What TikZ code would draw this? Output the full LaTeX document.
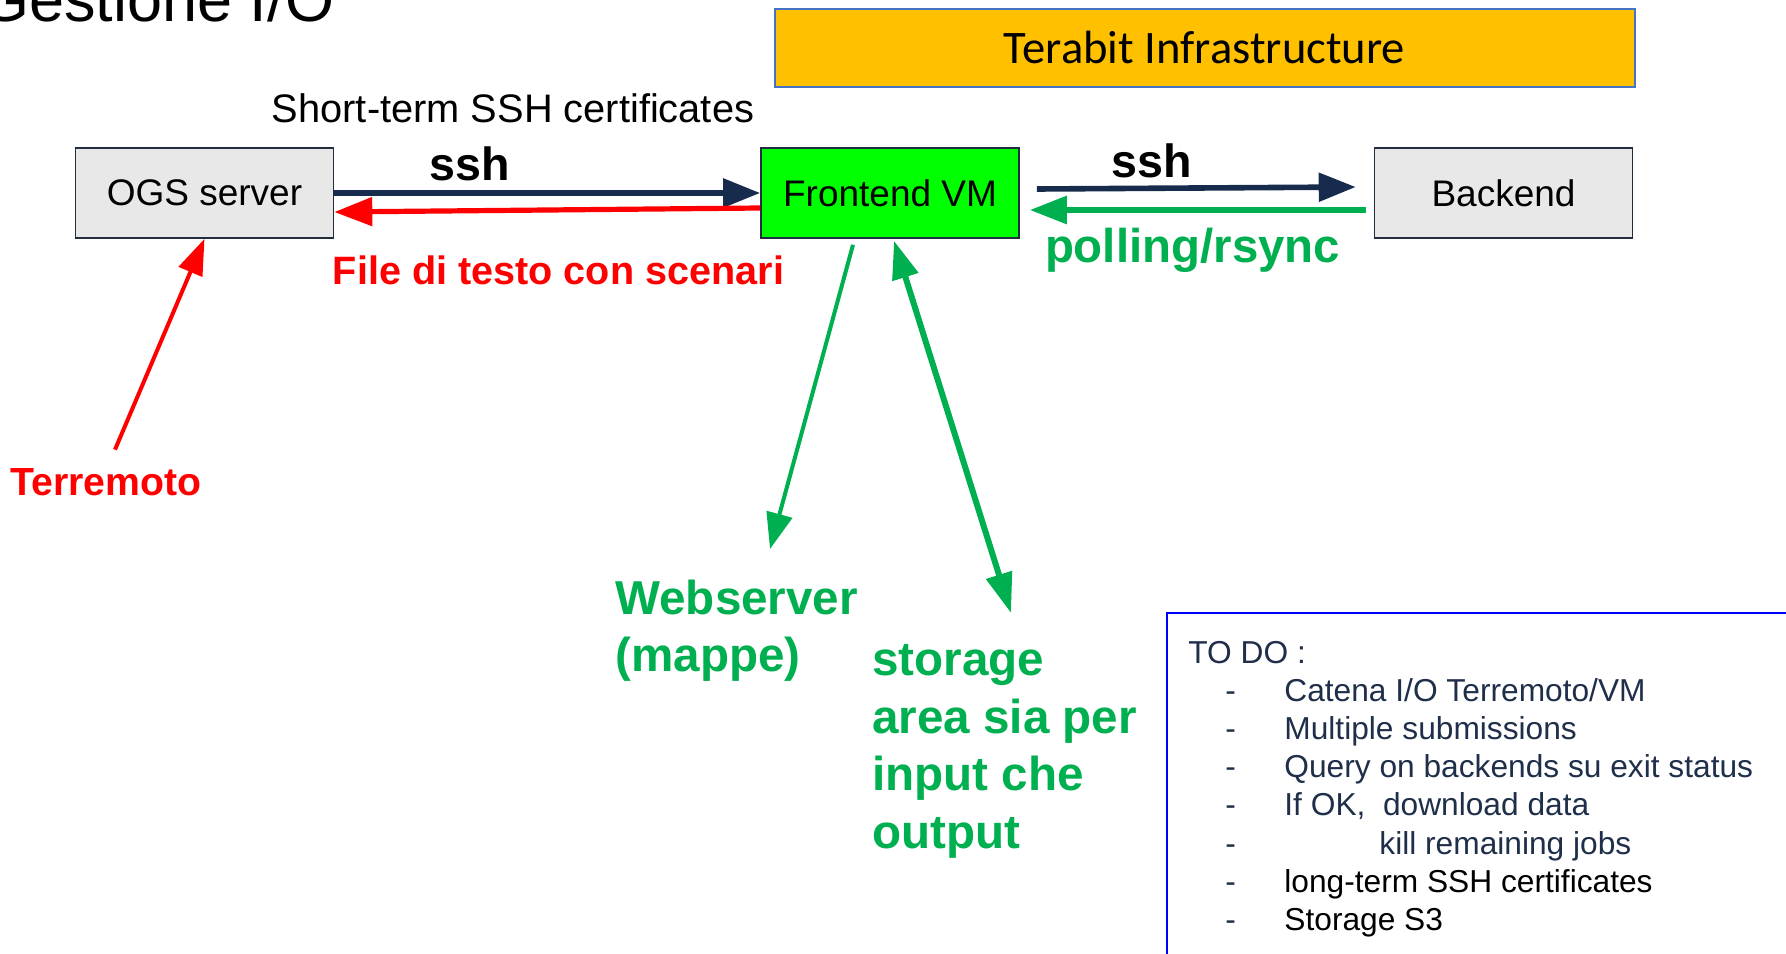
\documentclass[tikz,border=0pt]{standalone}
\usepackage{fontspec}
\setmainfont{Liberation Sans}
\newfontfamily\calfont{Carlito}
\usepackage{tikz}
\usetikzlibrary{arrows.meta}
\definecolor{navyline}{HTML}{172B4D}
\definecolor{boxline}{HTML}{1F2D3D}
\definecolor{boxgray}{HTML}{E8E8E8}
\definecolor{vmgreen}{HTML}{00FF00}
\definecolor{okgreen}{HTML}{00B050}
\definecolor{alertred}{HTML}{FF0000}
\definecolor{terafill}{HTML}{FFC000}
\definecolor{teraline}{HTML}{4472C4}
\definecolor{todoline}{HTML}{0000FF}
\definecolor{todotext}{HTML}{1F2F4A}
\tikzstyle{server}=[draw=boxline, line width=0.8pt, fill=boxgray, minimum width=129pt, minimum height=45pt, inner sep=0pt, font=\fontsize{18.5}{22}\selectfont]
\tikzstyle{infra}=[draw=teraline, line width=1pt, fill=terafill, minimum width=430pt, minimum height=39pt, inner sep=0pt, font=\calfont\fontsize{23.3}{28}\selectfont]
\tikzstyle{tag}=[inner sep=0pt, anchor=base]
\tikzstyle{bigtag}=[inner sep=0pt, anchor=base west, text=okgreen]
\tikzstyle{sshline}=[line width=2.8pt, draw=navyline, -{Triangle[length=18.5pt,width=14pt]}]
\tikzstyle{redline}=[line width=2.6pt, draw=alertred, -{Triangle[length=19pt,width=14pt]}]
\tikzstyle{greenline}=[line width=3pt, draw=okgreen, -{Triangle[length=18.5pt,width=13.5pt]}]
\tikzstyle{todo}=[inner sep=0pt, anchor=base west, text=todotext, font=\fontsize{15.85}{19.1}\selectfont]

\begin{document}
\begin{tikzpicture}[x=0.5pt, y=-0.5pt]
    \useasboundingbox (0,0) rectangle (1786,953);
    \clip (0,0) rectangle (1786,953);
    \node[tag, anchor=base west, font=\fontsize{31.5}{36}\selectfont] (title) at (-20,21) {Gestione I/O};
    \node[infra] (tera) at (1204.5,47.5) {Terabit Infrastructure};
    \node[tag, font=\fontsize{19.9}{24}\selectfont] (cert) at (513,122) {Short-term SSH certificates};
    \node[server] (ogs)   at (204.5,193) {OGS server};
    \node[server, fill=vmgreen] (front) at (890,193) {Frontend VM};
    \node[server] (back)  at (1503.5,193) {Backend};
    \node[tag, font=\bfseries\fontsize{23.3}{28}\selectfont] (ssha) at (470,180) {ssh};
    \node[tag, font=\bfseries\fontsize{23.3}{28}\selectfont] (sshb) at (1152,177) {ssh};
    \node[tag, text=alertred, font=\bfseries\fontsize{19.8}{24}\selectfont] (scen) at (558.5,284) {File di testo con scenari};
    \node[tag, text=okgreen, font=\bfseries\fontsize{23.7}{28}\selectfont] (poll) at (1192.5,262) {polling/rsync};
    \node[tag, text=alertred, font=\bfseries\fontsize{19.6}{24}\selectfont] (quake) at (106,495) {Terremoto};
    \node[bigtag, font=\bfseries\fontsize{23.8}{28.5}\selectfont] (web) at (615,614)
        {\begin{tabular}[t]{@{}l@{}}Webserver\\(mappe)\end{tabular}};
    \node[bigtag, font=\bfseries\fontsize{23.8}{28.75}\selectfont] (store) at (872,675.5)
        {\begin{tabular}[t]{@{}l@{}}storage\\area sia per\\input che\\output\end{tabular}};
    % to do list
    \draw[todoline, line width=0.8pt] (1167,613) rectangle (1800,970);
    \node[todo] (list) at (1188,663) {%
        \begin{tabular}[t]{@{\hspace{18.5pt}}p{29.5pt}@{}l@{}}
        \multicolumn{2}{@{}l@{}}{TO DO :}\\
        - & Catena I/O Terremoto/VM\\
        - & Multiple submissions\\
        - & Query on backends su exit status\\
        - & If OK,\ \ download data\\
        - & \hspace{47.5pt}kill remaining jobs\\
        - & \color{black}long-term SSH certificates\\
        - & \color{black}Storage S3
        \end{tabular}};
    % connectors
    \draw[sshline] (ogs.east) -- (front.west);
    \draw[redline] ([shift={(0,15)}]front.west) -- ([shift={(0,19)}]ogs.east);
    \draw[sshline] ([shift={(17,-4)}]front.east) -- ([shift={(-18,-6)}]back.west);
    \draw[greenline] ([shift={(-8,17)}]back.west) -- ([shift={(10,17)}]front.east);
    \draw[redline, line width=2pt, -{Triangle[length=18pt,width=12.5pt]}] ([shift={(9,-18)}]quake.north) -- (ogs.south);
    \draw[greenline, line width=2pt, -{Triangle[length=18pt,width=13pt]}] ([shift={(-37,6)}]front.south) -- ([shift={(155,-65)}]web.base west);
    \draw[greenline, {Triangle[length=19pt,width=13pt]}-{Triangle[length=20pt,width=13pt]}] ([shift={(4,2)}]front.south) -- ([shift={(139,-62.5)}]store.base west);
\end{tikzpicture}
\end{document}
